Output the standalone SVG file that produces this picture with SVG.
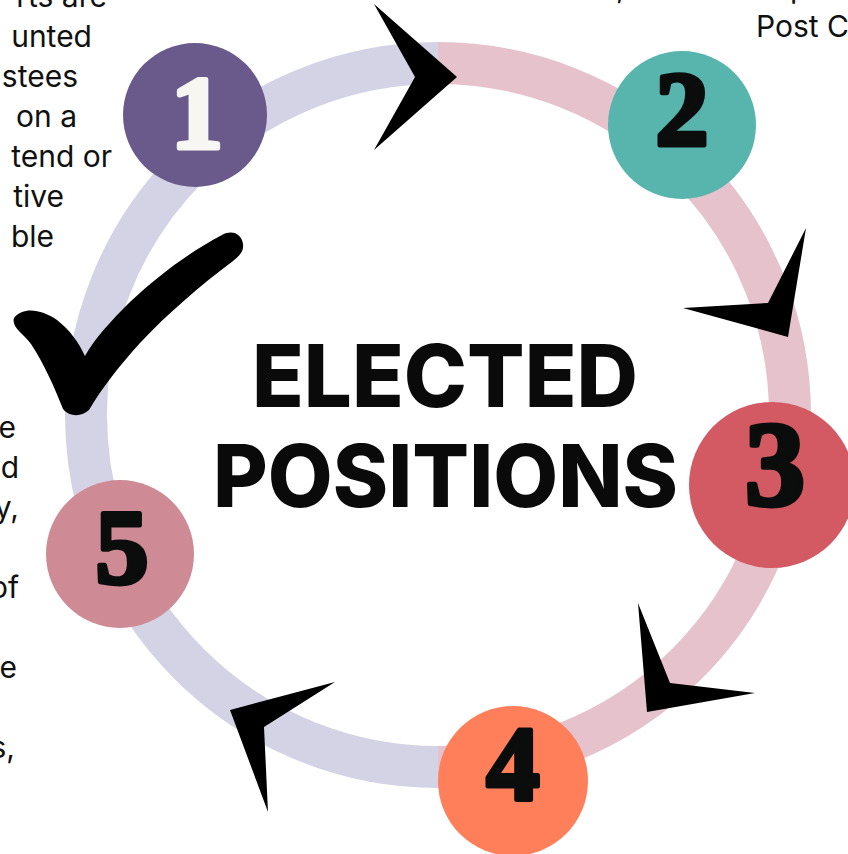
<svg xmlns="http://www.w3.org/2000/svg" width="848" height="854" viewBox="0 0 848 854">
<style>
.frag{font-family:Inter,"Liberation Sans",sans-serif;font-size:30px;fill:#111;}
.num{font-family:"Liberation Serif",serif;font-weight:bold;text-anchor:middle;stroke-width:5;stroke-linejoin:round;}
.title{font-family:Inter,"Liberation Sans",sans-serif;font-weight:800;font-size:87px;fill:#0a0a0a;}
.arrow{fill:#000;}
</style>
<rect width="848" height="854" fill="#fff"/>
<g id="ring">
<path d="M438 63 A352 352 0 0 0 438 767" fill="none" stroke="#D4D3E6" stroke-width="42"/>
<path d="M438 63 A352 352 0 0 1 438 767" fill="none" stroke="#E5C2CC" stroke-width="42"/>
</g>
<g id="fragments" class="frag">
<text x="107" y="7" text-anchor="end">rts are</text>
<text x="92" y="47" text-anchor="end">unted</text>
<text x="78" y="87" text-anchor="end">stees</text>
<text x="77" y="127" text-anchor="end">on a</text>
<text x="112" y="167" text-anchor="end">tend or</text>
<text x="64" y="207" text-anchor="end">tive</text>
<text x="54" y="247" text-anchor="end">ble</text>
<text x="16" y="438" text-anchor="end">e</text>
<text x="19" y="478" text-anchor="end">d</text>
<text x="19" y="518" text-anchor="end">y,</text>
<text x="19" y="598" text-anchor="end">of</text>
<text x="17" y="678" text-anchor="end">ve</text>
<text x="15" y="758" text-anchor="end">s,</text>
<text x="756" y="37">Post C</text>
<text x="616" y="-2">,</text>
<text x="790" y="-2">p</text>
</g>
<g id="connectors">
<polygon class="arrow" points="374,4 457,77 374,150 415,77"/>
<polygon class="arrow" points="806,228 788,337 683,308 768,303"/>
<polygon class="arrow" points="638,603 647,712 755,693 670,683"/>
<polygon class="arrow" points="335,682 230,710 268,812 264,727"/>
</g>
<g id="node1">
<circle cx="195" cy="115" r="72" fill="#6A5A8C"/>
<text class="num" x="197" y="148" font-size="104" fill="#F7F6F2" stroke="#F7F6F2">1</text>
</g>
<g id="node2">
<circle cx="682" cy="125" r="74" fill="#57B5AE"/>
<text class="num" x="682" y="145" font-size="106" fill="#0A0D0C" stroke="#0A0D0C">2</text>
</g>
<g id="node3">
<circle cx="772" cy="485" r="83" fill="#D35963"/>
<text class="num" x="775" y="505" font-size="120" fill="#0A0D0C" stroke="#0A0D0C">3</text>
</g>
<g id="node4">
<circle cx="513" cy="781" r="75" fill="#FF7F5A"/>
<text class="num" x="513" y="800" font-size="106" fill="#0A0D0C" stroke="#0A0D0C">4</text>
</g>
<g id="node5">
<circle cx="120" cy="554" r="74" fill="#CE8A95"/>
<text class="num" x="122" y="583" font-size="106" fill="#0A0D0C" stroke="#0A0D0C">5</text>
</g>
<g id="check">
<path d="M14 318 C24 306 42 310 57 320 C70 330 79 343 85 356 C95 338 110 322 130 302 C160 274 190 252 222 235 C233 229 242 235 243 244 C244 252 239 256 233 261 C201 285 167 314 140 343 C120 365 102 388 89 410 C83 416 70 418 63 409 C54 386 44 364 31 344 C24 334 11 327 14 318 Z" fill="#000"/>
</g>
<g id="title" class="title">
<text x="252" y="407" textLength="386" lengthAdjust="spacingAndGlyphs">ELECTED</text>
<text x="213" y="507" textLength="465" lengthAdjust="spacingAndGlyphs">POSITIONS</text>
</g>
</svg>
